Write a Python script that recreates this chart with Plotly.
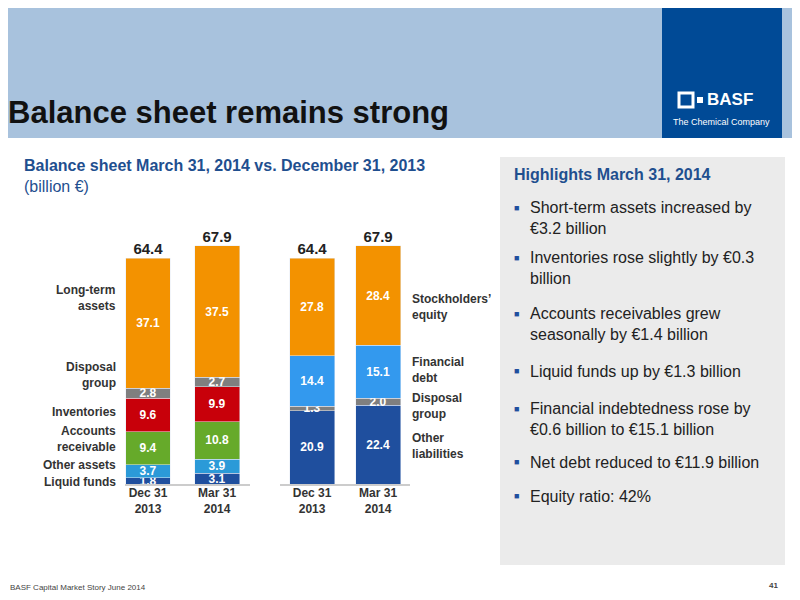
import plotly.graph_objects as go

periods = ["Dec 31<br>2013", "Mar 31<br>2014"]
assets_names = ["Liquid funds", "Other assets", "Accounts receivable", "Inventories", "Disposal group", "Long-term assets"]
assets_vals = [[1.8, 3.1], [3.7, 3.9], [9.4, 10.8], [9.6, 9.9], [2.8, 2.7], [37.1, 37.5]]
assets_colors = ["#1f4f9e", "#2b9ad8", "#66aa2a", "#c8000a", "#7f7f7f", "#f39200"]
liab_names = ["Other liabilities", "Disposal group", "Financial debt", "Stockholders' equity"]
liab_vals = [[20.9, 22.4], [1.3, 2.0], [14.4, 15.1], [27.8, 28.4]]
liab_colors = ["#1f4f9e", "#7f7f7f", "#3399ee", "#f39200"]
totals = [64.4, 67.9]
highlights = ["Short-term assets increased by<br>€3.2 billion",
              "Inventories rose slightly by €0.3<br>billion",
              "Accounts receivables grew<br>seasonally by €1.4 billion",
              "Liquid funds up by €1.3 billion",
              "Financial indebtedness rose by<br>€0.6 billion to €15.1 billion",
              "Net debt reduced to €11.9 billion",
              "Equity ratio: 42%"]

W, H, O = 784, 584, 8
def px(x): return (x - O) / W
def py(y): return 1 - (y - O) / H

xa = [0, 1]
xl = [2.377, 3.333]
fig = go.Figure()
for n, v, c in zip(assets_names, assets_vals, assets_colors):
    fig.add_bar(x=xa, y=v, name=n, marker_color=c, width=0.65, text=[f"<b>{t:.1f}</b>" for t in v],
                textposition="inside", insidetextanchor="middle",
                textfont=dict(color="white", size=12))
for n, v, c in zip(liab_names, liab_vals, liab_colors):
    fig.add_bar(x=xl, y=v, name=n, marker_color=c, width=0.65, text=[f"<b>{t:.1f}</b>" for t in v],
                textposition="inside", insidetextanchor="middle",
                textfont=dict(color="white", size=12))
fig.add_scatter(x=xa + xl, y=totals + totals, mode="text", text=[f"<b>{t}</b>" for t in totals + totals],
                textposition="top center", textfont=dict(size=15, color="#222"), cliponaxis=False)

fig.update_layout(
    width=W, height=H, barmode="stack", showlegend=False, uniformtext=dict(minsize=8, mode="show"),
    margin=dict(l=0, r=0, t=0, b=0), paper_bgcolor="white", plot_bgcolor="rgba(0,0,0,0)",
    font=dict(family="Liberation Sans, Arial", color="#333"),
    xaxis=dict(domain=[px(100), px(420)], range=[-0.696, 3.94], tickvals=xa + xl, ticktext=[f"<b>{p}</b>" for p in periods] * 2,
               showgrid=False, zeroline=False, showline=False, tickfont=dict(size=12, color="#333")),
    yaxis=dict(domain=[py(484), py(230)], range=[0, 72.4], visible=False),
)
def R(x0, x1, y0, y1, **k):
    return dict(type="rect", xref="paper", yref="paper", x0=px(x0), x1=px(x1), y0=py(y1), y1=py(y0), **k)
shapes = [
    R(O, 800, O, 138, fillcolor="#a8c2dd", line_width=0, layer="below"),
    R(662, 782, O, 138, fillcolor="#004a96", line_width=0, layer="below"),
    R(500, 785, 157, 565, fillcolor="#ebebeb", line_width=0, layer="below"),
    dict(type="line", xref="paper", yref="paper", x0=px(125), x1=px(250), y0=py(485), y1=py(485), line=dict(color="#999", width=1)),
    dict(type="line", xref="paper", yref="paper", x0=px(280), x1=px(410), y0=py(485), y1=py(485), line=dict(color="#999", width=1)),
    R(679, 693, 93, 107, fillcolor="#004a96", line=dict(color="white", width=3)),
    R(697, 703, 97, 103, fillcolor="white", line_width=0),
]
ann = []
def A(x, y, t, size=12, color="#333", xa="left", ya="middle", **k):
    ann.append(dict(xref="paper", yref="paper", x=px(x), y=py(y), text=t, showarrow=False,
                    xanchor=xa, yanchor=ya, font=dict(size=size, color=color, **k), align=xa if xa != "center" else "center"))
A(6, 112, "<b>Balance sheet remains strong</b>", size=31, color="#111")
A(705, 100, "<b>BASF</b>", size=17, color="white")
A(721, 122, "The Chemical Company", size=9, color="white", xa="center")
A(22, 165, "<b>Balance sheet March 31, 2014 vs. December 31, 2013</b>", size=16, color="#1f4f8f")
A(22, 187, "(billion €)", size=16, color="#1f4f8f")
A(512, 174, "<b>Highlights March 31, 2014</b>", size=16, color="#1f4f8f")
ys = [218, 268, 324, 371, 419, 462, 496]
for y, t in zip(ys, highlights):
    A(512, y - (10 if "<br>" in t else 0), "■", size=9, color="#1f4f9e")
    A(528, y, t, size=16, color="#222", ya="middle")
for y, t in [(298, "<b>Long-term<br>assets</b>"), (375, "<b>Disposal<br>group</b>"), (412, "<b>Inventories</b>"),
             (439, "<b>Accounts<br>receivable</b>"), (465, "<b>Other assets</b>"), (482, "<b>Liquid funds</b>")]:
    A(118, y, t, xa="right")
for y, t in [(307, "<b>Stockholders’<br>equity</b>"), (370, "<b>Financial<br>debt</b>"), (406, "<b>Disposal<br>group</b>"),
             (446, "<b>Other<br>liabilities</b>")]:
    A(410, y, t)
A(8, 587, "BASF Capital Market Story June 2014", size=8, color="#444")
A(780, 585, "<b>41</b>", size=8, color="#444", xa="right")
fig.update_layout(shapes=shapes, annotations=ann)
fig.write_html("out.html")
